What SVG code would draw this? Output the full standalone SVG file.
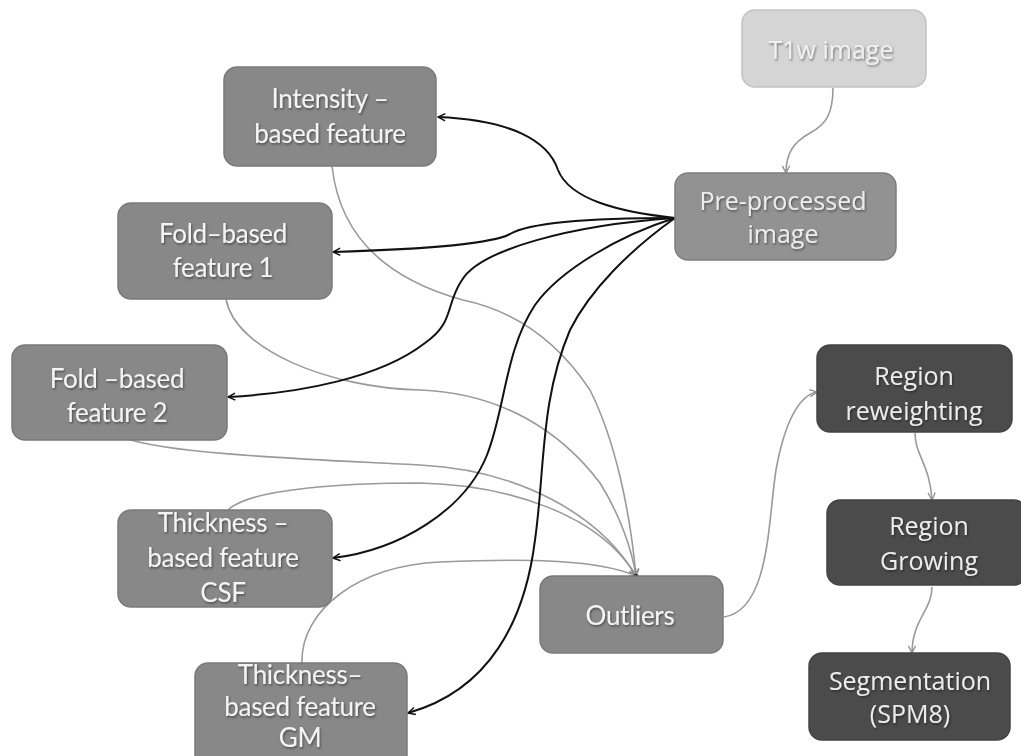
<svg xmlns="http://www.w3.org/2000/svg" width="1021" height="756" viewBox="0 0 1021 756">
<defs>
<filter id="ts" x="-10%" y="-20%" width="120%" height="140%">
<feDropShadow dx="1" dy="1.5" stdDeviation="1" flood-color="#000" flood-opacity="0.45"/>
</filter>
<marker id="ab" viewBox="0 0 10 10" refX="9" refY="5" markerWidth="9" markerHeight="9" markerUnits="userSpaceOnUse" orient="auto">
<path d="M1,1 L9,5 L1,9" fill="none" stroke="#111" stroke-width="1.6"/>
</marker>
<marker id="ag" viewBox="0 0 10 10" refX="9" refY="5" markerWidth="9" markerHeight="9" markerUnits="userSpaceOnUse" orient="auto">
<path d="M1,1 L9,5 L1,9" fill="none" stroke="#8a8a8a" stroke-width="1.4"/>
</marker>
</defs>
<style>
.mid{fill:#888888;stroke:#7a7a7a;stroke-width:1.5}
.pre{fill:#929292;stroke:#7e7e7e;stroke-width:1.5}
.light{fill:#d5d5d5;stroke:#c2c2c2;stroke-width:1.5}
.dark{fill:#4b4b4b;stroke:#444;stroke-width:1.5}
.lt{font-family:Lato,"Liberation Sans",sans-serif;font-size:26px;fill:#f4f4f4;text-anchor:middle;letter-spacing:-0.3px;filter:url(#ts)}
.ot{font-family:"Open Sans","Liberation Sans",sans-serif;font-size:25px;fill:#ececec;text-anchor:middle;filter:url(#ts)}
.t1{font-family:"Open Sans","Liberation Sans",sans-serif;font-size:25px;fill:#f0f0f0;text-anchor:middle;filter:url(#ts)}
.blk{fill:none;stroke:#111;stroke-width:2;marker-end:url(#ab)}
.gry{fill:none;stroke:#9a9a9a;stroke-width:1.6;marker-end:url(#ag)}
</style>
<g id="connectors">
<path class="gry" d="M833,88 C833,115 825,125 810,133 C792,143 786,155 786,173"/>
<path class="gry" d="M332,166 C340,240 390,280 463,300 C520,312 560,345 590,390 C615,440 630,510 636,576"/>
<path class="gry" d="M226,299 C235,350 330,388 420,390 C500,393 560,430 600,483 C620,515 632,550 636,576"/>
<path class="gry" d="M125,438 C170,455 330,460 420,465 C520,470 600,515 636,576"/>
<path class="gry" d="M228,510 C250,488 350,483 420,483 C510,485 600,515 636,576"/>
<path class="gry" d="M302,663 C300,610 360,565 440,562 C530,558 600,560 636,576"/>
<path class="gry" d="M724,617 C770,610 768,520 776,470 C785,420 800,395 817,392"/>
<path class="gry" d="M915,433 C915,455 930,465 932,500"/>
<path class="gry" d="M932,587 C932,610 912,620 912,653"/>
<path class="blk" d="M675,218 C620,212 570,200 558,170 C548,140 510,120 438,117"/>
<path class="blk" d="M675,218 C600,218 530,222 510,234 C490,245 400,250 333,252"/>
<path class="blk" d="M675,218 C570,225 480,250 462,280 C445,305 455,322 425,343 C380,378 300,393 228,397"/>
<path class="blk" d="M675,218 C620,235 560,270 535,305 C505,350 505,410 487,455 C465,510 400,550 333,558"/>
<path class="blk" d="M675,218 C630,250 590,290 570,330 C540,400 545,470 535,540 C525,620 490,690 408,713"/>
<circle cx="636" cy="577" r="3" fill="#222"/>
</g>
<g id="t1w">
<rect class="light" x="742" y="10" width="184" height="77" rx="13"/>
<text class="t1" x="831" y="59">T1w image</text>
</g>
<g id="preprocessed">
<rect class="pre" x="675" y="173" width="221" height="87" rx="13"/>
<text class="ot" x="783" y="210">Pre-processed</text>
<text class="ot" x="783" y="243">image</text>
</g>
<g id="intensity">
<rect class="mid" x="224" y="67" width="212" height="99" rx="13"/>
<text class="lt" x="330" y="108">Intensity –</text>
<text class="lt" x="330" y="143">based feature</text>
</g>
<g id="fold1">
<rect class="mid" x="118" y="203" width="214" height="96" rx="13"/>
<text class="lt" x="223" y="243">Fold–based</text>
<text class="lt" x="223" y="277">feature 1</text>
</g>
<g id="fold2">
<rect class="mid" x="12" y="345" width="215" height="95" rx="13"/>
<text class="lt" x="117" y="388">Fold –based</text>
<text class="lt" x="117" y="422">feature 2</text>
</g>
<g id="thickcsf">
<rect class="mid" x="118" y="510" width="214" height="97" rx="13"/>
<text class="lt" x="223" y="532">Thickness –</text>
<text class="lt" x="223" y="567">based feature</text>
<text class="lt" x="223" y="602">CSF</text>
</g>
<g id="thickgm">
<rect class="mid" x="195" y="663" width="212" height="105" rx="13"/>
<text class="lt" x="300" y="684">Thickness–</text>
<text class="lt" x="300" y="716">based feature</text>
<text class="lt" x="300" y="747">GM</text>
</g>
<g id="outliers">
<rect class="mid" x="540" y="576" width="183" height="77" rx="13"/>
<text class="lt" x="630" y="625">Outliers</text>
</g>
<g id="reweighting">
<rect class="dark" x="817" y="345" width="195" height="87" rx="13"/>
<text class="ot" x="914" y="385">Region</text>
<text class="ot" x="914" y="420">reweighting</text>
</g>
<g id="growing">
<rect class="dark" x="827" y="500" width="200" height="85" rx="13"/>
<text class="ot" x="929" y="535">Region</text>
<text class="ot" x="929" y="570">Growing</text>
</g>
<g id="segmentation">
<rect class="dark" x="809" y="653" width="201" height="87" rx="13"/>
<text class="ot" x="910" y="690">Segmentation</text>
<text class="ot" x="910" y="723">(SPM8)</text>
</g>
</svg>
